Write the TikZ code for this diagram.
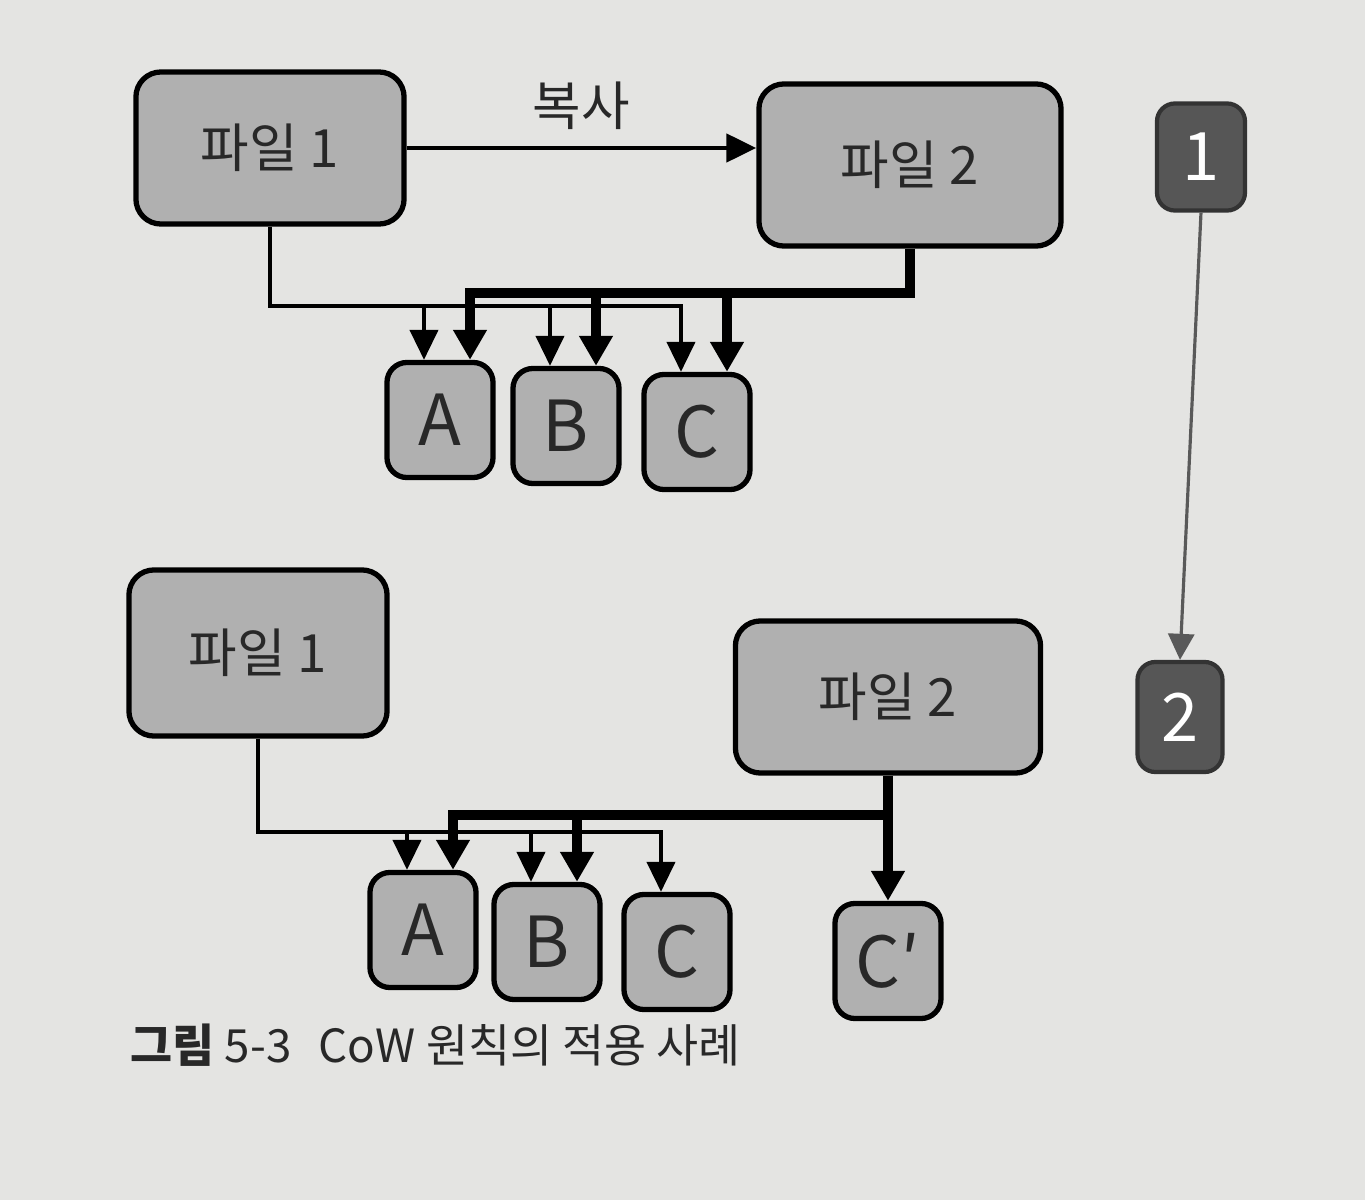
\documentclass[tikz,border=0pt]{standalone}
\usepackage{fontspec}
\setmainfont{Noto Sans CJK KR}
\usepackage{xcolor}
\usepackage{tikz}
\usetikzlibrary{arrows.meta}
\definecolor{paper}{RGB}{228,228,226}
\definecolor{boxgray}{RGB}{176,176,176}
\definecolor{stepgray}{RGB}{86,86,86}
\definecolor{ink}{RGB}{40,40,40}

\begin{document}
\begin{tikzpicture}[x=0.01cm, y=-0.01cm,
	filebox/.style={draw=black, line width=1.5pt, rounded corners=0.25cm, fill=boxgray, text=ink, inner sep=0pt, font=\fontsize{15}{15}\selectfont},
	blockbox/.style={draw=black, line width=1.5pt, rounded corners=0.2cm, fill=boxgray, text=ink, inner sep=0pt, minimum width=1.06cm, minimum height=1.15cm, font=\fontsize{20}{20}\selectfont},
	stepbox/.style={draw=black!80, line width=1.2pt, rounded corners=0.18cm, fill=stepgray, text=white, inner sep=0pt, font=\fontsize{19}{19}\selectfont},
	thinwire/.style={line width=1.2pt, -{Triangle[length=0.3cm,width=0.28cm]}},
	thickwire/.style={line width=2.6pt, -{Triangle[length=0.3cm,width=0.32cm]}}]
			\fill[paper] (0,0) rectangle (1365,1200);
			% step 1
			\node[filebox, minimum width=2.68cm, minimum height=1.52cm] at (270,148) (f1a){파일 1};
			\node[filebox, minimum width=3.02cm, minimum height=1.62cm] at (910,165) (f2a){파일 2};
			\node[blockbox] at (440,420) (A1){A};
			\node[blockbox] at (566,426) (B1){B};
			\node[blockbox] at (697,432) (C1){C};
			% step 2
			\node[filebox, minimum width=2.58cm, minimum height=1.66cm] at (258,653) (f1b){파일 1};
			\node[filebox, minimum width=3.05cm, minimum height=1.52cm] at (888,697) (f2b){파일 2};
			\node[blockbox] at (423,930) (A2){A};
			\node[blockbox] at (547,942) (B2){B};
			\node[blockbox] at (677,952) (C2){C};
			\node[blockbox] at (888,961) (Cp2){C′};
			% steps
			\node[stepbox, minimum width=0.88cm, minimum height=1.07cm] at (1201,157) (s1){1};
			\node[stepbox, minimum width=0.85cm, minimum height=1.1cm] at (1180,717) (s2){2};
			\draw[black!65, line width=0.9pt, -{Triangle[length=0.26cm,width=0.26cm]}] (s1.south) -- (s2.north);
			% copy
			\draw[line width=1.4pt, -{Triangle[length=0.3cm,width=0.28cm]}] (f1a.east) -- (f1a.east -| f2a.west)
				node[midway, above=0.04cm, text=ink, font=\fontsize{15}{15}\selectfont] (copy){복사};
			% drop points
			\foreach \n in {A1,B1,C1,A2,B2,C2}{
				\coordinate (l\n) at ([xshift=-0.16cm]\n.north);
				\coordinate (r\n) at ([xshift=0.3cm]\n.north);
			}
			\coordinate (tb1) at (0,306);
			\coordinate (tk1) at (0,293);
			\coordinate (tb2) at (0,832);
			\coordinate (tk2) at (0,815);
			% step 1 links
			\draw[thinwire] (f1a.south) |- (lC1 |- tb1) -- (lC1);
			\draw[thinwire] (lA1 |- tb1) -- (lA1);
			\draw[thinwire] (lB1 |- tb1) -- (lB1);
			\draw[thickwire] (f2a.south) |- (rA1 |- tk1) -- (rA1);
			\draw[thickwire] (rB1 |- tk1) -- (rB1);
			\draw[thickwire] (rC1 |- tk1) -- (rC1);
			% step 2 links
			\draw[thinwire] (f1b.south) |- (lC2 |- tb2) -- (lC2);
			\draw[thinwire] (lA2 |- tb2) -- (lA2);
			\draw[thinwire] (lB2 |- tb2) -- (lB2);
			\draw[thickwire] (f2b.south) -- (Cp2.north);
			\draw[thickwire] (f2b.south |- tk2) -| (rA2);
			\draw[thickwire] (rB2 |- tk2) -- (rB2);
			% caption
			\node[anchor=west, text=ink, font=\fontsize{13}{13}\selectfont] at (118,1045) (cap){\textbf{그림} 5-3\hspace{0.6em}CoW 원칙의 적용 사례};
		\end{tikzpicture}
\end{document}
